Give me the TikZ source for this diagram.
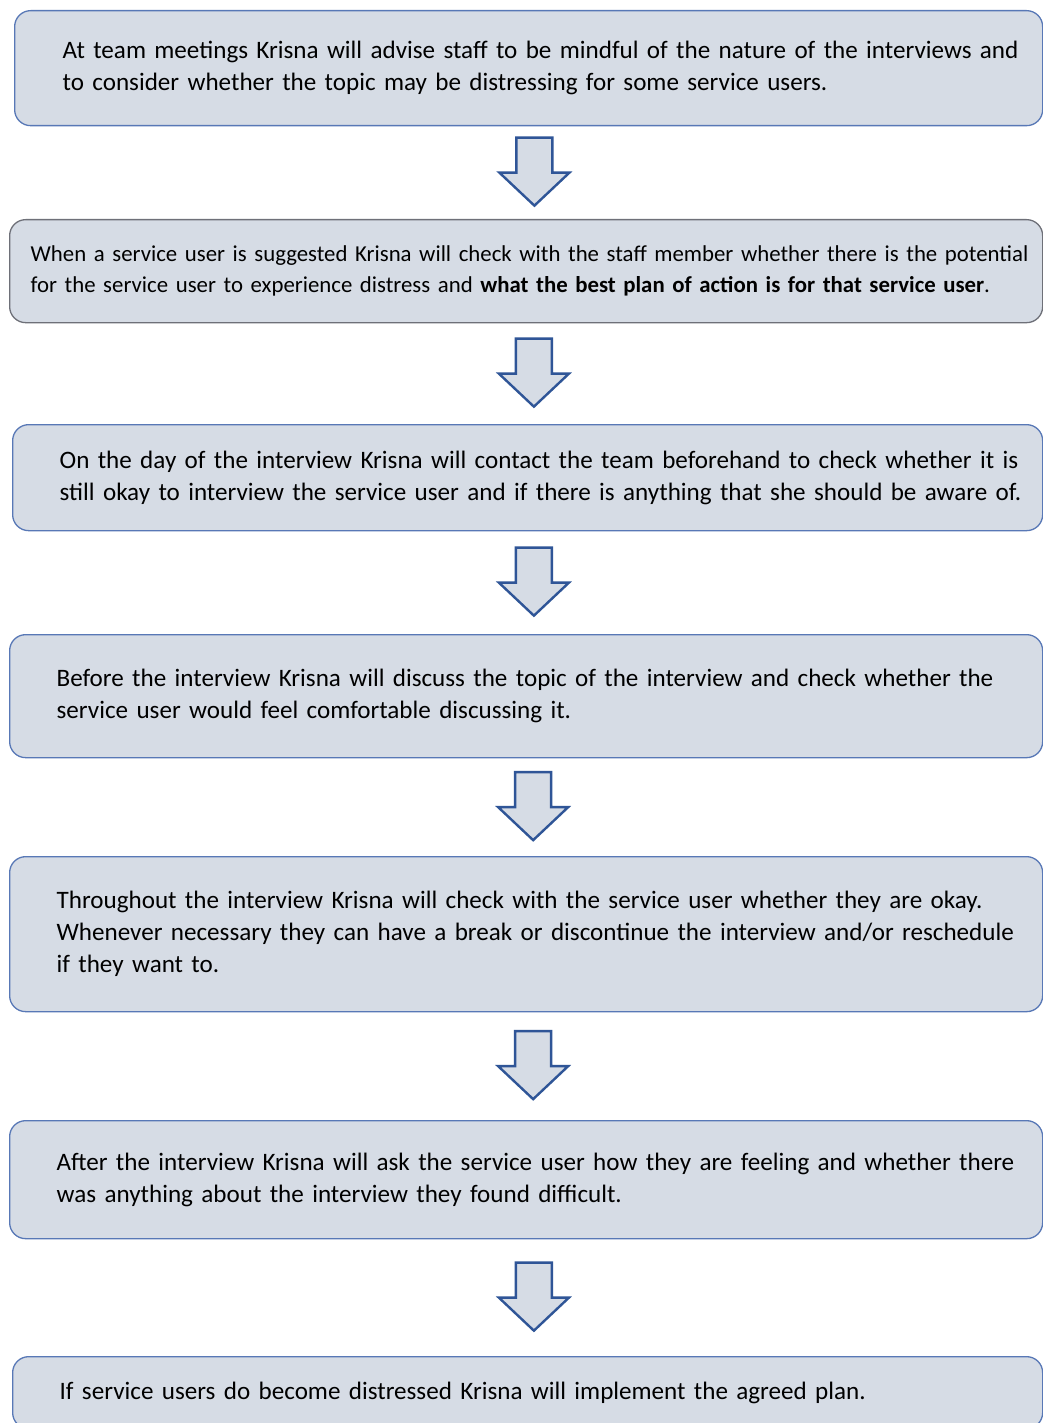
\documentclass[tikz,border=0pt]{standalone}
\usepackage{fontspec}
\setmainfont{Carlito}
\usetikzlibrary{calc}

\definecolor{boxfill}{RGB}{214,220,229}
\definecolor{boxline}{RGB}{88,120,182}
\definecolor{greyline}{RGB}{110,112,120}
\definecolor{arrowline}{RGB}{47,85,151}

\tikzset{
  stepbox/.style={draw=boxline, fill=boxfill, line width=1.3pt, rounded corners=16pt,
    anchor=north west, align=left, inner ysep=0pt, text=black,
    font=\fontsize{25.1}{32}\selectfont,
    execute at begin node={\rightskip=0pt plus 1fil minus 300pt\relax\linepenalty=1000\relax}},
  arrowshape/.style={draw=arrowline, fill=boxfill, line width=2.4pt, line join=miter},
  pics/downarrow/.style={code={
    \draw[arrowshape] (-18,-34) -- (18,-34) -- (18,1) -- (35,1) -- (0,34) -- (-35,1) -- (-18,1) -- cycle;
  }}
}

\begin{document}
\begin{tikzpicture}[x=1pt,y=-1pt]
  \useasboundingbox[fill=white] (0,0) rectangle (1043,1423);

  \node[stepbox, inner xsep=48, text width=932, minimum height=115] (meet) at (14,10)
    {At team meetings Krisna will advise staff to be mindful of the nature of the interviews and\\
     to consider whether the topic may be distressing for some service users.};
  \node[stepbox, draw=greyline, inner xsep=21, text width=991, minimum height=103,
        font=\fontsize{22.8}{31}\selectfont] (suggest) at (9,219)
    {When a service user is suggested Krisna will check with the staff member whether there is the potential\\
     for the service user to experience distress and \textbf{what the best plan of action is for that service user}.};
  \node[stepbox, inner xsep=47, text width=936, minimum height=106] (onday) at (12,424)
    {On the day of the interview Krisna will contact the team beforehand to check whether it is\\
     still okay to interview the service user and if there is anything that she should be aware of.};
  \node[stepbox, inner xsep=47, text width=939, minimum height=123] (before) at (9,634)
    {Before the interview Krisna will discuss the topic of the interview and check whether the\\
     service user would feel comfortable discussing it.};
  \node[stepbox, inner xsep=47, text width=939, minimum height=155] (during) at (9,856)
    {Throughout the interview Krisna will check with the service user whether they are okay.\\
     Whenever necessary they can have a break or discontinue the interview and/or reschedule\\
     if they want to.};
  \node[stepbox, inner xsep=47, text width=939, minimum height=118] (after) at (9,1120)
    {After the interview Krisna will ask the service user how they are feeling and whether there\\
     was anything about the interview they found difficult.};
  \node[stepbox, inner xsep=47, text width=936, minimum height=72] (distress) at (12,1356)
    {If service users do become distressed Krisna will implement the agreed plan.};

  % block arrows between the steps
  \foreach \a/\b in {meet/suggest,suggest/onday,onday/before,before/during,during/after,after/distress}
    \pic at ($(\a.south)!0.5!(\b.north)+(7,-1)$) {downarrow};
\end{tikzpicture}
\end{document}
